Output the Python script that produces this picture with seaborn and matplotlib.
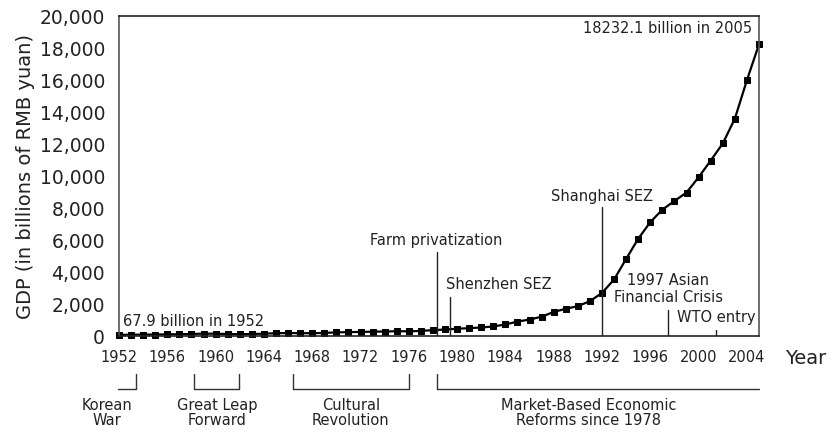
import pandas as pd
import seaborn as sns
import matplotlib.pyplot as plt
from matplotlib.ticker import FuncFormatter

years = list(range(1952, 2006))
gdp = [67.9, 82.4, 85.9, 91.0, 102.8, 106.8, 130.7, 143.9, 145.7, 122.0,
       114.9, 123.3, 145.4, 171.6, 186.8, 177.4, 172.3, 193.8, 225.3, 242.6,
       251.8, 272.1, 279.0, 299.7, 294.4, 320.2, 364.5, 406.3, 454.6, 489.2,
       532.3, 596.3, 720.8, 901.6, 1027.5, 1205.9, 1504.3, 1699.2, 1866.8, 2178.2,
       2692.3, 3533.4, 4819.8, 6079.4, 7117.7, 7897.3, 8440.2, 8967.7, 9921.5, 10965.5,
       12033.3, 13582.3, 15987.8, 18232.1]

x_ticks = list(range(1952, 2005, 4))
y_ticks = list(range(0, 20001, 2000))

# events marked with a vertical line
events = ["Farm privatization", "Shenzhen SEZ", "Shanghai SEZ",
          "1997 Asian\nFinancial Crisis", "WTO entry"]
event_years = [1978.3, 1979.4, 1992.0, 1997.5, 2001.4]

# periods bracketed under the axis
periods = ["Korean\nWar", "Great Leap\nForward", "Cultural\nRevolution",
           "Market-Based Economic\nReforms since 1978"]
period_start = [1950.5, 1958.2, 1966.4, 1978.3]
period_end = [1953.4, 1961.9, 1976.0, 2005.0]

df = pd.DataFrame({"Year": years, "GDP": gdp})

sns.set_style("white")
plt.rcParams["font.family"] = ["DejaVu Sans"]

fig = plt.figure(figsize=(8.33, 4.35), dpi=100)
ax = fig.add_axes([119 / 833, 1 - 337 / 435, 640 / 833, 320 / 435])

sns.lineplot(data=df, x="Year", y="GDP", ax=ax, color="black", linewidth=1.6,
             marker="s", markersize=5, markeredgecolor="black", clip_on=False)

ax.set_xlim(1952, 2005)
ax.set_ylim(0, 20000)
ax.set_xticks(x_ticks)
ax.set_yticks(y_ticks)
ax.yaxis.set_major_formatter(FuncFormatter(lambda v, p: f"{int(v):,}"))
ax.tick_params(axis="y", direction="out", length=8, width=1, colors="#444",
               labelsize=13.5, labelcolor="#222", pad=2)
ax.tick_params(axis="x", direction="out", length=6, width=1, colors="#444",
               labelsize=10.5, labelcolor="#222", pad=3)
for s in ax.spines.values():
    s.set_color("#555")
    s.set_linewidth(1.2)
ax.spines["top"].set_color("#222")
ax.spines["bottom"].set_color("#222")
ax.set_xlabel("")
ax.set_ylabel("GDP (in billions of RMB yuan)", fontsize=14, color="#222", labelpad=3)

# vertical event markers
tops = [5250, 2440, 8060, 1625, 375]
for yr, top in zip(event_years, tops):
    ax.plot([yr, yr], [0, top], color="#222", linewidth=1)

txt = dict(fontsize=10.5, color="#222")
ax.text(event_years[0], 6060, events[0], ha="center", va="center", **txt)
ax.text(1979.1, 3310, events[1], ha="left", va="center", **txt)
ax.text(event_years[2], 8750, events[2], ha="center", va="center", **txt)
ax.text(event_years[3], 3000, events[3], ha="center", va="center",
        linespacing=1.1, **txt)
ax.text(1998.2, 1190, events[4], ha="left", va="center", **txt)

ax.text(1952.3, 1000, "67.9 billion in 1952", ha="left", va="center", **txt)
ax.text(2004.4, 19250, "18232.1 billion in 2005", ha="right", va="center", **txt)

# period brackets below the axis
tr = ax.get_xaxis_transform()
y_bar = -0.166
y_top = -0.119
for i, (a, b) in enumerate(zip(period_start, period_end)):
    a_draw = max(a, 1951.9)
    ax.plot([a_draw, b], [y_bar, y_bar], color="#333", lw=1, transform=tr, clip_on=False)
    if i != 0:
        ax.plot([a, a], [y_bar, y_top], color="#333", lw=1, transform=tr, clip_on=False)
    if i != 3:
        ax.plot([b, b], [y_bar, y_top], color="#333", lw=1, transform=tr, clip_on=False)

label_x = [1951.0, 1960.1, 1971.2, 1990.9]
for lab, lx in zip(periods, label_x):
    ax.text(lx, -0.19, lab, transform=tr, ha="center", va="top",
            linespacing=1.05, clip_on=False, **txt)

fig.text(785 / 833, 1 - 359 / 435, "Year", ha="left", va="center",
         fontsize=14, color="#222")

fig.savefig("out.png", dpi=100)
